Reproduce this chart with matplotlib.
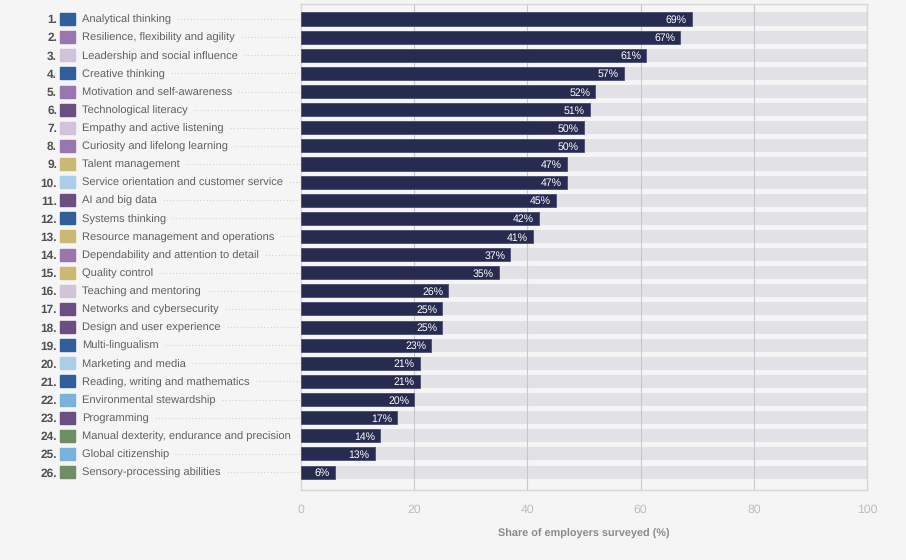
import numpy as np
import matplotlib.pyplot as plt
from matplotlib.lines import Line2D

plt.rcParams['font.family'] = ['Liberation Sans', 'DejaVu Sans']
plt.rcParams['text.hinting'] = 'no_hinting'

# data
skills = ['Analytical thinking', 'Resilience, flexibility and agility', 'Leadership and social influence',
          'Creative thinking', 'Motivation and self-awareness', 'Technological literacy',
          'Empathy and active listening', 'Curiosity and lifelong learning', 'Talent management',
          'Service orientation and customer service', 'AI and big data', 'Systems thinking',
          'Resource management and operations', 'Dependability and attention to detail', 'Quality control',
          'Teaching and mentoring', 'Networks and cybersecurity', 'Design and user experience',
          'Multi-lingualism', 'Marketing and media', 'Reading, writing and mathematics',
          'Environmental stewardship', 'Programming', 'Manual dexterity, endurance and precision',
          'Global citizenship', 'Sensory-processing abilities']
shares = [69, 67, 61, 57, 52, 51, 50, 50, 47, 47, 45, 42, 41, 37, 35, 26, 25, 25, 23, 21, 21, 20, 17, 14, 13, 6]
groups = ['blue', 'purple', 'lilac', 'blue', 'purple', 'dpurple', 'lilac', 'purple', 'tan', 'lblue',
          'dpurple', 'blue', 'tan', 'purple', 'tan', 'lilac', 'dpurple', 'dpurple', 'blue', 'lblue',
          'blue', 'mblue', 'dpurple', 'green', 'mblue', 'green']

group_colors = {'blue': '#30609a', 'purple': '#9a76ae', 'lilac': '#d0c3da', 'dpurple': '#6b4e82',
                'tan': '#c9b972', 'lblue': '#a8cfe7', 'mblue': '#7ab2dc', 'green': '#6f8e63'}

bg = '#f5f5f5'
bar_dark = '#272b50'
bar_bg = '#e1e1e6'
label_col = '#606060'

fig = plt.figure(figsize=(9.06, 5.6), dpi=100, facecolor=bg)
ax = fig.add_axes([0.3322, 0.125, 0.6248, 0.8679])
ax.set_facecolor(bg)

y = np.arange(len(skills))
ax.barh(y, [100] * len(y), height=0.72, color=bar_bg, zorder=1)
for x in [20, 40, 60, 80]:
    ax.axvline(x, color='#c8c8cc', lw=0.8, zorder=2)
ax.barh(y, shares, height=0.72, color=bar_dark, edgecolor='#4a4e72', linewidth=0.6, zorder=3)

for yi, v in zip(y, shares):
    ax.text(v - 0.9, yi, f'{v}%', color='white', fontsize=7.6,
            ha='right', va='center_baseline', zorder=4)

ax.set_xlim(0, 100)
ax.set_ylim(len(y) - 1 + 0.99, -0.83)
ax.set_yticks([])
ax.set_xticks([0, 20, 40, 60, 80, 100])
ax.tick_params(axis='x', length=0, pad=10, labelsize=8.8, labelcolor='#bdbdbd')
for s in ax.spines.values():
    s.set_color('#d6d6d6')
    s.set_linewidth(1.0)
ax.set_xlabel('Share of employers surveyed (%)', fontsize=7.8, fontweight='bold',
              color='#8a8a8a', labelpad=10)

# left-hand labels with numbers, swatches and dotted leaders
fig.canvas.draw()
renderer = fig.canvas.get_renderer()
inv = fig.transFigure.inverted()
W, H = fig.get_size_inches() * fig.dpi
for i, (name, g) in enumerate(zip(skills, groups)):
    yf = inv.transform(ax.transData.transform((0, i)))[1]
    fig.text(57 / W, yf, f'{i + 1}.', ha='right', va='center_baseline', fontsize=8.6,
             fontweight='bold', color='#505050')
    fig.patches.append(plt.Rectangle((60 / W, yf - 6 / H), 15 / W, 12 / H,
                                     transform=fig.transFigure, color=group_colors[g], figure=fig))
    t = fig.text(82 / W, yf, name, ha='left', va='center_baseline', fontsize=8.0, color=label_col)
    bb = t.get_window_extent(renderer)
    x0 = (bb.x1 + 6) / W
    fig.lines.append(Line2D([x0, 300 / W], [yf, yf], transform=fig.transFigure,
                            color='#d2d2d2', lw=0.8, ls=(0, (1, 2)), figure=fig))

fig.savefig('out.png', dpi=100, facecolor=bg)
